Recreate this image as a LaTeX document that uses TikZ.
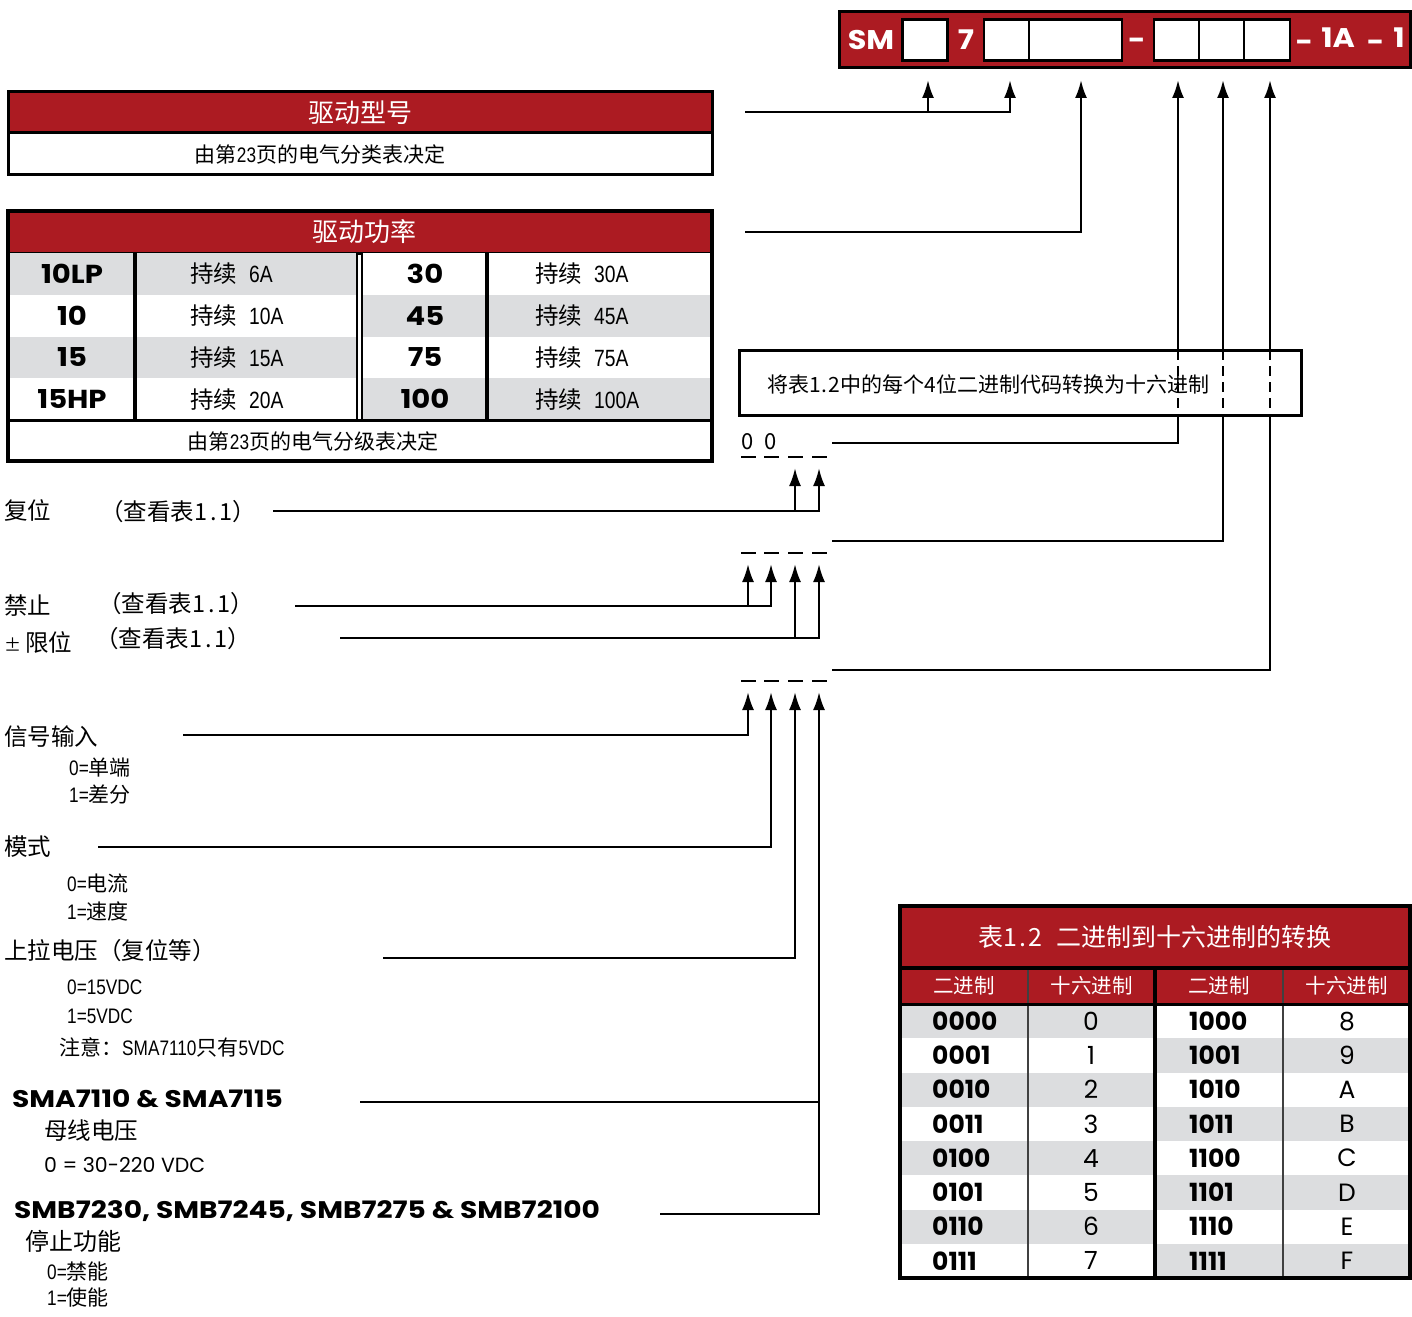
\documentclass[tikz,border=0pt]{standalone}
\usepackage{fontspec}
\setmainfont{Noto Sans CJK SC}
\newfontfamily\futura{Poppins}
\newfontfamily\futurawide{Poppins}[FakeStretch=1.12]
\newfontfamily\futuraxwide{Poppins}[FakeStretch=1.17]
\newfontfamily\narrowfont{Liberation Sans}[FakeStretch=0.82]
\newcommand\narrowtxt[1]{{\narrowfont #1}}
\newcommand\tabref{（查看表1\kern3pt.\kern3pt1）}
\usetikzlibrary{arrows.meta,positioning,calc}
\definecolor{brickred}{HTML}{AC1B22}
\definecolor{rowgray}{HTML}{DCDDDF}

\begin{document}
\begin{tikzpicture}[
  x=1pt, y=-1pt,
  font=\fontsize{23.5}{27}\selectfont,
  redbar/.style={
    draw=black,
    line width=3pt,
    fill=brickred,
    text=white,
    inner sep=0pt,
    outer sep=0pt,
    font=\fontsize{26}{30}\selectfont
  },
  plainbar/.style={
    draw=black,
    line width=3pt,
    fill=white,
    inner sep=0pt,
    outer sep=0pt
  },
  notetxt/.style={
    inner sep=0pt,
    font=\fontsize{21}{24}\selectfont
  },
  cell/.style={
    inner sep=0pt,
    outer sep=0pt
  },
  slot/.style={
    draw=black,
    line width=2.5pt,
    fill=white,
    minimum width=45pt,
    minimum height=41pt,
    inner sep=0pt
  },
  codetxt/.style={
    text=white,
    inner sep=0pt,
    font=\futurawide\bfseries\fontsize{27}{30}\selectfont
  },
  boldnum/.style={
    inner sep=0pt,
    font=\futurawide\bfseries\fontsize{26}{28}\selectfont
  },
  binnum/.style={
    inner sep=0pt,
    font=\futura\bfseries\fontsize{25}{28}\selectfont
  },
  hexdigit/.style={
    inner sep=0pt,
    font=\futura\fontsize{25}{28}\selectfont
  },
  lbl/.style={
    anchor=west,
    inner sep=0pt
  },
  sublbl/.style={
    lbl,
    font=\fontsize{21}{24}\selectfont
  },
  modellbl/.style={
    lbl,
    font=\futuraxwide\bfseries\fontsize{24}{28}\selectfont
  },
  bitdash/.style={
    fill=black,
    minimum width=15pt,
    minimum height=2.5pt,
    inner sep=0pt
  },
  wire/.style={
    line width=2.4pt
  },
  uparrow/.style={
    -{Latex[length=18pt,width=12pt]},
    line width=2.4pt
  },
  frame/.style={
    line width=3.5pt
  }
]
\useasboundingbox (0,0) rectangle (1412,1316);

% Part number bar
\node[redbar, minimum width=571pt, minimum height=56pt] (code_bar) at (1124.5,40) {};
\node[slot] (slot_a) at (925,40) {};
\node[slot] (slot_b) at (1006.5,40) {};
\node[slot, minimum width=93pt] (slot_c) at (1075.5,40) {};
\node[slot] (slot_d) at (1176.5,40) {};
\node[slot] (slot_e) at (1221.5,40) {};
\node[slot, minimum width=46pt] (slot_f) at (1267,40) {};
\node[codetxt] (code_sm) at (871,40) {SM};
\node[codetxt] (code_seven) at (966,40) {7};
\node[codetxt] (code_dash) at (1137,44) {-};
\node[codetxt, anchor=east] (code_tail) at (1405,40)
  {\raisebox{-4pt}{-}\hspace{8pt}1A\hspace{12pt}\raisebox{-4pt}{-}\hspace{9pt}1};

\coordinate (tip_a) at (928,80);
\coordinate (tip_b) at (1010,80);
\coordinate (tip_c) at (1081,80);
\coordinate (tip_d) at (1178,80);
\coordinate (tip_e) at (1223,80);
\coordinate (tip_f) at (1270,80);

% Drive model table
\node[redbar, minimum width=704pt, minimum height=41pt] (model_head) at (360,112.5) {驱动型号};
\node[plainbar, minimum width=704pt, minimum height=42pt, below=0pt of model_head] (model_note) {};
\node[notetxt] (model_text) at (320,154) {由第\narrowtxt{23}页的电气分类表决定};

% Drive power table
\node[redbar, minimum width=704pt, minimum height=42pt] (power_head) at (360,232) {\hspace{8pt}驱动功率};
\foreach \code/\amp/\rcode/\ramp/\lf/\rf [count=\i] in {
    10LP/6A/30/30A/rowgray/white,
    10/10A/45/45A/white/rowgray,
    15/15A/75/75A/rowgray/white,
    15HP/20A/100/100A/white/rowgray}{
  \pgfmathsetmacro{\yy}{253+41.75*(\i-0.5)}
  \node[cell, fill=\lf, minimum width=349pt, minimum height=41.75pt, anchor=west] (power_l\i) at (8,\yy) {};
  \node[cell, fill=\rf, minimum width=350pt, minimum height=41.75pt, anchor=west] (power_r\i) at (362,\yy) {};
  \node[boldnum] (power_code\i) at (72,\yy) {\code};
  \node[lbl] (power_amp\i) at (190,\yy) {持续\hspace{12pt}\narrowtxt{\amp}};
  \node[boldnum] (power_rcode\i) at (425,\yy) {\rcode};
  \node[lbl] (power_ramp\i) at (535,\yy) {持续\hspace{12pt}\narrowtxt{\ramp}};
}
\node[plainbar, minimum width=704pt, minimum height=41pt] (power_note) at (360,440.5) {};
\node[notetxt] (power_text) at (313,441) {由第\narrowtxt{23}页的电气分级表决定};
\draw[frame] (135,253) -- (135,420);
\draw[line width=2pt] (357,253) -- (357,420);
\draw[line width=2pt] (362,253) -- (362,420);
\draw[frame] (487,253) -- (487,420);
\draw[frame] (power_head.north west) rectangle (power_note.south east);

% Bit placeholders
\node[font=\fontsize{22}{26}\selectfont, inner sep=0pt] (zero_a) at (748,442) {0};
\node[font=\fontsize{22}{26}\selectfont, inner sep=0pt] (zero_b) at (771,442) {0};
\foreach \g/\yy in {bits_a/457, bits_b/553, bits_c/681}
  \foreach \i/\xx in {1/748, 2/771, 3/795, 4/819}
    \node[bitdash] (\g\i) at (\xx,\yy) {};

% Lines up to the part number
\coordinate (model_out) at (745,112);
\coordinate (power_out) at (745,232);
\coordinate (bits_a_out) at (832,443);
\coordinate (bits_b_out) at (832,541);
\coordinate (bits_c_out) at (832,670);
\draw[uparrow] (model_out) -| (tip_b);
\draw[uparrow] (model_out -| tip_a) -- (tip_a);
\draw[uparrow] (power_out) -| (tip_c);
\draw[uparrow] (bits_a_out) -| (tip_d);
\draw[uparrow] (bits_b_out) -| (tip_e);
\draw[uparrow] (bits_c_out) -| (tip_f);

% Conversion note
\node[draw, line width=3pt, fill=white, minimum width=562pt, minimum height=65pt, outer sep=0pt] (conv_box) at (1020,382.5) {};
\node[lbl, font=\fontsize{21}{24}\selectfont, right=28pt of conv_box.west, yshift=-2pt] (conv_text)
  {将表1\kern1pt.\kern1pt2中的每个4位二进制代码转换为十六进制};
\foreach \t in {tip_d, tip_e, tip_f}
  \draw[wire, dash pattern=on 10pt off 6pt] (\t |- conv_box.north) -- (\t |- conv_box.south);

% Option labels
\node[lbl] (reset_lbl) at (4,510) {复位};
\node[lbl] (reset_ref) at (100,512) {\tabref};
\node[lbl] (disable_lbl) at (4,606) {禁止};
\node[lbl] (disable_ref) at (98,604) {\tabref};
\node[lbl] (limit_lbl) at (4,642) {{\fontsize{17}{18}\selectfont ±}\hspace{4pt}限位};
\node[lbl] (limit_ref) at (95,639) {\tabref};

\node[lbl] (signal_lbl) at (4,737) {信号输入};
\node[sublbl] (signal_0) at (69,768) {\narrowtxt{0=}单端};
\node[sublbl] (signal_1) at (69,795) {\narrowtxt{1=}差分};

\node[lbl] (mode_lbl) at (4,847) {模式};
\node[sublbl] (mode_0) at (67,883) {\narrowtxt{0=}电流};
\node[sublbl] (mode_1) at (67,911) {\narrowtxt{1=}速度};

\node[lbl] (pullup_lbl) at (4,951) {上拉电压（复位等）};
\node[sublbl] (pullup_0) at (67,987) {\narrowtxt{0=15VDC}};
\node[sublbl] (pullup_1) at (67,1016) {\narrowtxt{1=5VDC}};
\node[sublbl] (pullup_note) at (59,1047) {注意：\narrowtxt{SMA7110}只有\narrowtxt{5VDC}};

\node[modellbl] (bus_lbl) at (12,1099) {SMA7110 \& SMA7115};
\node[lbl] (bus_sub) at (44,1131) {母线电压};
\node[lbl, font=\futura\fontsize{20.5}{22}\selectfont] (bus_0) at (44,1165) {0 = 30-220 VDC};

\node[modellbl] (stop_lbl) at (14,1211) {SMB7230, SMB7245, SMB7275 \& SMB72100};
\node[lbl, font=\fontsize{24}{27}\selectfont] (stop_sub) at (25,1241) {停止功能};
\node[sublbl] (stop_0) at (47,1271) {\narrowtxt{0=}禁能};
\node[sublbl] (stop_1) at (47,1298) {\narrowtxt{1=}使能};

% Lines up to the bit placeholders
\coordinate (reset_out) at (273,511);
\coordinate (disable_out) at (295,606);
\coordinate (limit_out) at (340,638);
\coordinate (signal_out) at (183,735);
\coordinate (mode_out) at (98,847);
\coordinate (pullup_out) at (383,958);
\coordinate (bus_out) at (360,1102);
\coordinate (stop_out) at (660,1214);
\draw[uparrow] (reset_out) -| ([yshift=-11pt]bits_a4.center);
\draw[uparrow] (reset_out -| bits_a3) -- ([yshift=-11pt]bits_a3.center);
\draw[uparrow] (disable_out) -| ([yshift=-11pt]bits_b2.center);
\draw[uparrow] (disable_out -| bits_b1) -- ([yshift=-11pt]bits_b1.center);
\draw[uparrow] (limit_out) -| ([yshift=-11pt]bits_b4.center);
\draw[uparrow] (limit_out -| bits_b3) -- ([yshift=-11pt]bits_b3.center);
\draw[uparrow] (signal_out) -| ([yshift=-11pt]bits_c1.center);
\draw[uparrow] (mode_out) -| ([yshift=-11pt]bits_c2.center);
\draw[uparrow] (pullup_out) -| ([yshift=-11pt]bits_c3.center);
\draw[uparrow] (stop_out) -| ([yshift=-11pt]bits_c4.center);
\draw[wire] (bus_out) -- (bus_out -| bits_c4);

% Table 1.2
\node[redbar, minimum width=510pt, minimum height=62pt, font=\fontsize{25}{28}\selectfont] (hex_head) at (1155,937)
  {表1\kern2pt.\kern2pt2\hspace{14pt}二进制到十六进制的转换};
\foreach \t/\xx/\w [count=\i] in {二进制/964/128, 十六进制/1091.5/127, 二进制/1219/128, 十六进制/1346.5/127}
  \node[cell, fill=brickred, text=white, minimum width=\w pt, minimum height=36pt, font=\fontsize{20.5}{24}\selectfont]
    (hex_col\i) at (\xx,986) {\t};
\foreach \lb/\lh/\rb/\rh/\lf/\rf [count=\i] in {
    0000/0/1000/8/rowgray/white,
    0001/1/1001/9/white/rowgray,
    0010/2/1010/A/rowgray/white,
    0011/3/1011/B/white/rowgray,
    0100/4/1100/C/rowgray/white,
    0101/5/1101/D/white/rowgray,
    0110/6/1110/E/rowgray/white,
    0111/7/1111/F/white/rowgray}{
  \pgfmathsetmacro{\yy}{1004+34.25*(\i-0.5)}
  \node[cell, fill=\lf, minimum width=255pt, minimum height=34.25pt] (hex_l\i) at (1027.5,\yy) {};
  \node[cell, fill=\rf, minimum width=255pt, minimum height=34.25pt] (hex_r\i) at (1282.5,\yy) {};
  \node[binnum, anchor=west] (hex_lb\i) at (932,\yy) {\lb};
  \node[hexdigit] (hex_lh\i) at (1091,\yy) {\lh};
  \node[binnum, anchor=west] (hex_rb\i) at (1189,\yy) {\rb};
  \node[hexdigit] (hex_rh\i) at (1347,\yy) {\rh};
}
\draw[line width=2pt, black!75] (1028,968) -- (1028,1278);
\draw[line width=2pt, black!75] (1283,968) -- (1283,1278);
\draw[line width=4pt] (1155,968) -- (1155,1278);
\draw[line width=3pt] (900,1004) -- (1410,1004);
\draw[line width=4pt] (900,968) -- (1410,968);
\draw[line width=4pt] (hex_head.north west) rectangle (1410,1278);

\end{tikzpicture}
\end{document}
